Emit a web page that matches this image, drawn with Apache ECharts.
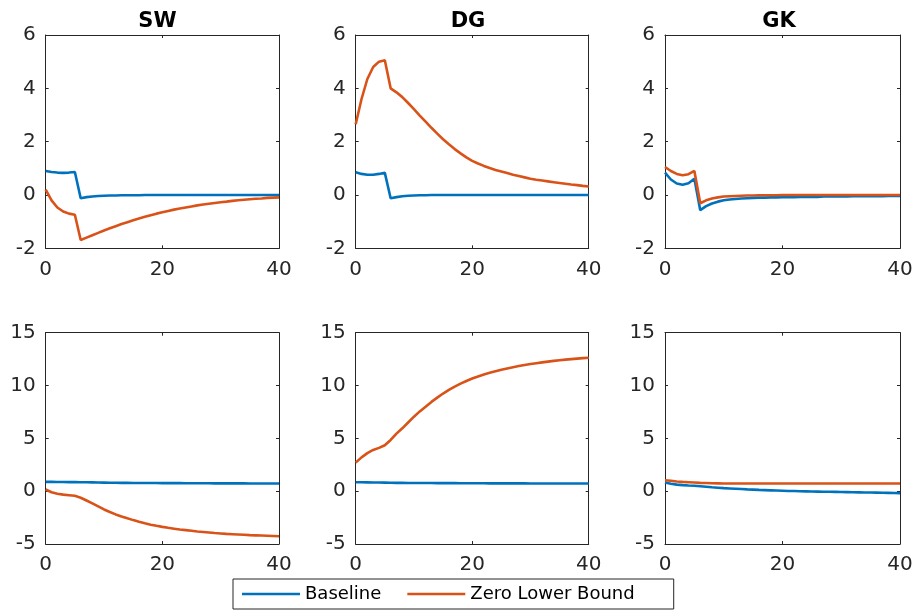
<!DOCTYPE html>
<html>
<head>
<meta charset="utf-8">
<script src="https://cdn.jsdelivr.net/npm/echarts@6/dist/echarts.min.js"></script>
<style>
html,body{margin:0;padding:0;background:#fff;}
#chart{width:917px;height:611px;}
</style>
</head>
<body>
<div id="chart"></div>
<script>
var periods = [0,1,2,3,4,5,6,7,8,9,10,11,12,13,14,15,16,17,18,19,20,21,22,23,24,25,26,27,28,29,30,31,32,33,34,35,36,37,38,39,40];
var panelTitles = ['SW', 'DG', 'GK'];
var xTicks = [0, 20, 40];
var topYTicks = [-2, 0, 2, 4, 6];
var bottomYTicks = [-5, 0, 5, 10, 15];
var seriesNames = ['Baseline', 'Zero Lower Bound'];

// Top row
var swTopBaseline = [0.90,0.86,0.84,0.83,0.84,0.86,-0.12,-0.08,-0.06,-0.04,-0.03,-0.02,-0.02,-0.01,-0.01,-0.01,-0.01,0.00,0.00,0.00,0.00,0.00,0.00,0.00,0.00,0.00,0.00,0.00,0.00,0.00,0.00,0.00,0.00,0.00,0.00,0.00,0.00,0.00,0.00,0.00,0.00];
var swTopZlb = [0.20,-0.20,-0.47,-0.62,-0.70,-0.74,-1.69,-1.60,-1.51,-1.42,-1.33,-1.25,-1.17,-1.09,-1.02,-0.95,-0.88,-0.82,-0.76,-0.70,-0.65,-0.60,-0.55,-0.51,-0.47,-0.43,-0.39,-0.36,-0.33,-0.30,-0.27,-0.25,-0.22,-0.20,-0.18,-0.16,-0.14,-0.13,-0.11,-0.10,-0.09];
var dgTopBaseline = [0.85,0.79,0.76,0.76,0.79,0.83,-0.12,-0.08,-0.05,-0.03,-0.02,-0.01,-0.01,0.00,0.00,0.00,0.00,0.00,0.00,0.00,0.00,0.00,0.00,0.00,0.00,0.00,0.00,0.00,0.00,0.00,0.00,0.00,0.00,0.00,0.00,0.00,0.00,0.00,0.00,0.00,0.00];
var dgTopZlb = [2.65,3.60,4.35,4.80,5.00,5.05,4.00,3.85,3.67,3.45,3.22,2.98,2.75,2.52,2.30,2.09,1.90,1.72,1.56,1.41,1.28,1.18,1.09,1.01,0.94,0.88,0.82,0.76,0.71,0.66,0.61,0.57,0.54,0.51,0.48,0.45,0.42,0.39,0.37,0.34,0.32];
var gkTopBaseline = [0.84,0.58,0.43,0.38,0.44,0.61,-0.57,-0.42,-0.32,-0.25,-0.20,-0.17,-0.15,-0.13,-0.12,-0.11,-0.10,-0.10,-0.09,-0.09,-0.08,-0.08,-0.08,-0.07,-0.07,-0.07,-0.07,-0.06,-0.06,-0.06,-0.06,-0.06,-0.05,-0.05,-0.05,-0.05,-0.05,-0.05,-0.04,-0.04,-0.04];
var gkTopZlb = [1.05,0.90,0.79,0.74,0.78,0.90,-0.31,-0.20,-0.13,-0.09,-0.06,-0.05,-0.04,-0.03,-0.02,-0.02,-0.01,-0.01,-0.01,-0.01,0.00,0.00,0.00,0.00,0.00,0.00,0.00,0.00,0.00,0.00,0.00,0.00,0.00,0.00,0.00,0.00,0.00,0.00,0.00,0.00,0.00];

// Bottom row
var swBottomBaseline = [0.88,0.88,0.87,0.87,0.86,0.86,0.85,0.84,0.83,0.82,0.81,0.80,0.80,0.79,0.79,0.78,0.78,0.77,0.77,0.77,0.76,0.76,0.76,0.76,0.75,0.75,0.75,0.75,0.75,0.74,0.74,0.74,0.74,0.74,0.74,0.73,0.73,0.73,0.73,0.73,0.73];
var swBottomZlb = [0.16,-0.10,-0.25,-0.33,-0.38,-0.44,-0.62,-0.88,-1.15,-1.44,-1.73,-1.97,-2.20,-2.39,-2.57,-2.74,-2.90,-3.04,-3.17,-3.28,-3.38,-3.47,-3.55,-3.63,-3.69,-3.75,-3.81,-3.86,-3.91,-3.96,-4.00,-4.04,-4.07,-4.10,-4.13,-4.16,-4.18,-4.20,-4.22,-4.24,-4.26];
var dgBottomBaseline = [0.85,0.84,0.83,0.82,0.82,0.81,0.80,0.79,0.79,0.78,0.78,0.77,0.77,0.77,0.76,0.76,0.76,0.76,0.75,0.75,0.75,0.75,0.75,0.74,0.74,0.74,0.74,0.74,0.74,0.74,0.73,0.73,0.73,0.73,0.73,0.73,0.73,0.72,0.72,0.72,0.72];
var dgBottomZlb = [2.70,3.20,3.60,3.90,4.10,4.35,4.85,5.45,5.95,6.50,7.05,7.55,8.00,8.45,8.85,9.24,9.58,9.90,10.18,10.43,10.66,10.86,11.04,11.20,11.35,11.50,11.62,11.73,11.84,11.94,12.03,12.11,12.19,12.26,12.33,12.39,12.45,12.50,12.55,12.59,12.63];
var gkBottomBaseline = [0.82,0.70,0.62,0.57,0.54,0.52,0.47,0.42,0.37,0.33,0.29,0.26,0.23,0.20,0.17,0.15,0.12,0.10,0.08,0.06,0.04,0.02,0.01,-0.01,-0.02,-0.03,-0.04,-0.05,-0.06,-0.07,-0.08,-0.09,-0.10,-0.11,-0.12,-0.13,-0.14,-0.15,-0.16,-0.17,-0.18];
var gkBottomZlb = [1.04,0.98,0.92,0.88,0.85,0.82,0.79,0.77,0.75,0.74,0.73,0.73,0.72,0.72,0.72,0.72,0.72,0.72,0.72,0.72,0.72,0.72,0.72,0.72,0.72,0.72,0.72,0.72,0.72,0.72,0.72,0.72,0.72,0.72,0.72,0.72,0.72,0.72,0.72,0.72,0.72];

var panelData = [
  [swTopBaseline, swTopZlb], [dgTopBaseline, dgTopZlb], [gkTopBaseline, gkTopZlb],
  [swBottomBaseline, swBottomZlb], [dgBottomBaseline, dgBottomZlb], [gkBottomBaseline, gkBottomZlb]
];

var colors = ['#0072BD', '#D95319'];
var axisColor = '#262626';
var font = 'DejaVu Sans';
var colLeft = [45.7, 355.7, 665];
var colWidth = [233.3, 233, 235];
var rowTop = [35, 332.7];
var rowHeight = [213.3, 211.3];
var titleCenters = [152.5, 463, 774];

var grids = [], xAxes = [], yAxes = [], series = [], titles = [];

function pairs(vals) {
  return periods.map(function (p, i) { return [p, vals[i]]; });
}

for (var p = 0; p < 6; p++) {
  var r = Math.floor(p / 3), c = p % 3;
  var yt = r === 0 ? topYTicks : bottomYTicks;
  grids.push({ left: colLeft[c], top: rowTop[r], width: colWidth[c], height: rowHeight[r], containLabel: false });
  var baseX = {
    type: 'value', gridIndex: p, min: xTicks[0], max: xTicks[xTicks.length - 1], interval: xTicks[1] - xTicks[0],
    axisLine: { show: true, onZero: false, lineStyle: { color: axisColor, width: 1 } },
    axisTick: { show: true, inside: true, length: 3, lineStyle: { color: axisColor } },
    splitLine: { show: false }
  };
  xAxes.push(Object.assign({}, baseX, {
    position: 'bottom',
    axisLabel: { show: true, margin: 11, color: axisColor, fontFamily: font, fontSize: 20 }
  }));
  xAxes.push(Object.assign({}, baseX, { position: 'top', axisLabel: { show: false } }));
  var baseY = {
    type: 'value', gridIndex: p, min: yt[0], max: yt[yt.length - 1], interval: yt[1] - yt[0],
    axisLine: { show: true, onZero: false, lineStyle: { color: axisColor, width: 1 } },
    axisTick: { show: true, inside: true, length: 3, lineStyle: { color: axisColor } },
    splitLine: { show: false }
  };
  yAxes.push(Object.assign({}, baseY, {
    position: 'left',
    axisLabel: { show: true, margin: 10, color: axisColor, fontFamily: font, fontSize: 20 }
  }));
  yAxes.push(Object.assign({}, baseY, { position: 'right', axisLabel: { show: false } }));
  for (var s = 0; s < 2; s++) {
    series.push({
      name: seriesNames[s], type: 'line', xAxisIndex: 2 * p, yAxisIndex: 2 * p,
      data: pairs(panelData[p][s]), showSymbol: false, symbol: 'none',
      lineStyle: { color: colors[s], width: 2.6 }, itemStyle: { color: colors[s] },
      z: 2 + s, animation: false
    });
  }
  if (r === 0) {
    titles.push({
      text: panelTitles[c], left: titleCenters[c], textAlign: 'center', top: 6,
      textStyle: { fontFamily: font, fontWeight: 'bold', fontSize: 21, color: '#000' }
    });
  }
}

var option = {
  animation: false,
  backgroundColor: '#fff',
  title: titles,
  grid: grids,
  xAxis: xAxes,
  yAxis: yAxes,
  series: series,
  legend: {
    data: seriesNames,
    left: 233, top: 579,
    orient: 'horizontal',
    icon: 'rect', itemWidth: 58, itemHeight: 2.5, itemGap: 26,
    borderColor: axisColor, borderWidth: 1, borderRadius: 0,
    padding: [6, 39, 6, 9], backgroundColor: '#fff',
    textStyle: { fontFamily: font, fontSize: 18, color: '#000' }
  }
};

var chart = echarts.init(document.getElementById('chart'), null, { renderer: 'canvas' });
chart.setOption(option);
</script>
</body>
</html>
